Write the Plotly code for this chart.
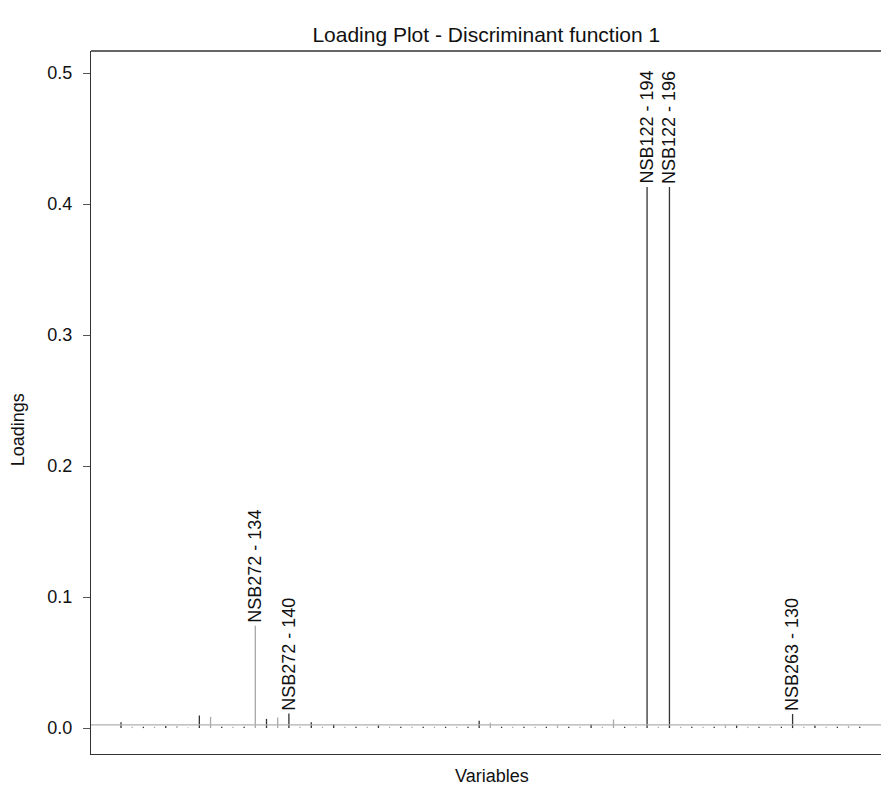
import plotly.graph_objects as go

# Loadings for 67 variables (index 0..66)
loadings = [
    0.0045, 0.001, 0.001, 0.001, 0.0015, 0.0015, 0.0003, 0.0095, 0.0085, 0.001,
    0.001, 0.001, 0.078, 0.0070, 0.0080, 0.0112, 0.001, 0.0045, 0.001, 0.0030,
    0.001, 0.001, 0.001, 0.002, 0.001, 0.001, 0.001, 0.001, 0.001, 0.001,
    0.001, 0.001, 0.0055, 0.0040, 0.001, 0.001, 0.001, 0.001, 0.001, 0.002,
    0.001, 0.001, 0.0030, 0.001, 0.0065, 0.001, 0.001, 0.413, 0.001, 0.413,
    0.001, 0.001, 0.001, 0.001, 0.002, 0.002, 0.001, 0.001, 0.001, 0.001,
    0.0108, 0.001, 0.002, 0.001, 0.001, 0.0015, 0.001,
]
# colour group per variable: 1 = dark, 0 = grey
dark = [
    1, 0, 1, 0, 1, 0, 1, 1, 0, 1,
    0, 1, 0, 1, 0, 1, 0, 1, 0, 1,
    0, 1, 0, 1, 0, 1, 0, 1, 0, 1,
    0, 1, 1, 0, 1, 0, 1, 0, 1, 0,
    1, 0, 1, 0, 0, 1, 0, 1, 0, 1,
    0, 1, 0, 1, 0, 1, 0, 1, 0, 1,
    1, 0, 1, 0, 1, 0, 1,
]
label_idx = [12, 15, 47, 49, 60]
label_txt = ["NSB272 - 134", "NSB272 - 140", "NSB122 - 194", "NSB122 - 196", "NSB263 - 130"]
y_ticks = [0.0, 0.1, 0.2, 0.3, 0.4, 0.5]
ref_level = 0.0025

FONT = "Liberation Sans, Arial"

fig = go.Figure()
for grp, col in [(0, "#a8a8a8"), (1, "#333333")]:
    xs, ys = [], []
    for i, v in enumerate(loadings):
        if dark[i] == grp:
            xs += [i, i, None]
            ys += [0, v, None]
    fig.add_trace(go.Scatter(x=xs, y=ys, mode="lines",
                             line=dict(color=col, width=1.3),
                             hoverinfo="skip", showlegend=False))

# horizontal reference line
fig.add_trace(go.Scatter(x=[-3, 70], y=[ref_level, ref_level], mode="lines",
                         line=dict(color="#b0b0b0", width=1.2),
                         hoverinfo="skip", showlegend=False))

for i, t in zip(label_idx, label_txt):
    fig.add_annotation(x=i, y=loadings[i], text=t, textangle=-90,
                       showarrow=False, xanchor="center", yanchor="bottom",
                       yshift=1, font=dict(family=FONT, size=18, color="#111"))

# axis titles
fig.add_annotation(text="Loadings", xref="paper", yref="paper", x=-0.092, y=0.461,
                   textangle=-90, showarrow=False, xanchor="center", yanchor="middle",
                   font=dict(family=FONT, size=18, color="#111"))
fig.add_annotation(text="Variables", xref="paper", yref="paper", x=0.5076, y=-0.0313,
                   showarrow=False, xanchor="center", yanchor="middle",
                   font=dict(family=FONT, size=18, color="#111"))

fig.add_shape(type="line", xref="paper", yref="paper", x0=0, x1=1, y0=1, y1=1,
              line=dict(color="#333", width=1.3))

fig.update_layout(
    width=881, height=793,
    margin=dict(l=91, r=0, t=51, b=39),
    plot_bgcolor="white", paper_bgcolor="white",
    font=dict(family=FONT, size=18, color="#111"),
    title=dict(text="Loading Plot - Discriminant function 1", x=0.552, xanchor="center",
               y=1 - 35 / 793, yanchor="middle", font=dict(size=21)),
    xaxis=dict(range=[-2.68, 67.9], showgrid=False, zeroline=False, showticklabels=False,
               ticks="", showline=True, linecolor="#333", linewidth=1.3),
    yaxis=dict(range=[-0.0198, 0.5168], showgrid=False, zeroline=False,
               tickvals=y_ticks, ticktext=[f"{v:.1f}" for v in y_ticks],
               ticks="outside", ticklen=7, tickcolor="#555", tickwidth=1.3,
               ticklabelstandoff=7,
               showline=True, linecolor="#333", linewidth=1.3,
               tickfont=dict(size=18)),
)

fig.write_html("out.html")
